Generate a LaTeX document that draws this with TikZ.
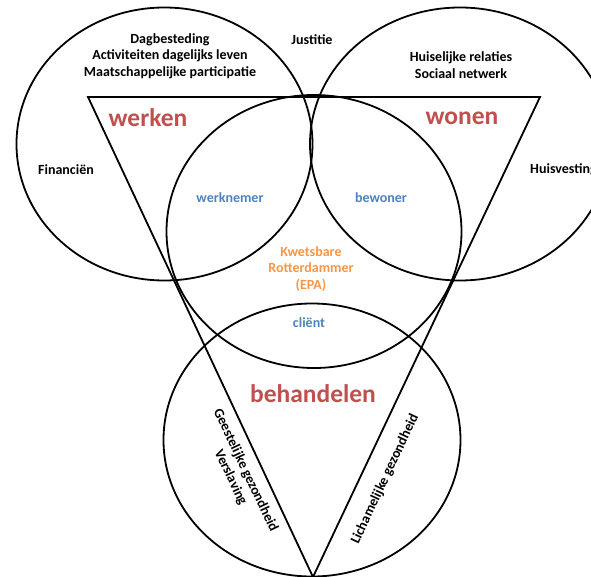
\documentclass[tikz,border=0pt]{standalone}
\usepackage{fontspec}
\setmainfont{Carlito}
\usepackage{xcolor}
\usetikzlibrary{positioning, calc}

\definecolor{domred}{HTML}{C0504D}
\definecolor{rolblue}{HTML}{4F81BD}
\definecolor{epaorange}{HTML}{F79646}

\begin{document}
\begin{tikzpicture}[x=1pt, y=-1pt, line width=1.8pt,
  domainlabel/.style={font=\bfseries\fontsize{25.5}{28}\selectfont, text=domred},
  rolelabel/.style={font=\bfseries\fontsize{14}{16}\selectfont, text=rolblue},
  themelabel/.style={font=\bfseries\fontsize{14}{16.5}\selectfont, align=center}]
\useasboundingbox (0,0) rectangle (591,577);
\clip (0,0) rectangle (591,577);

% Circles
\draw (164.5,144) circle [x radius=148, y radius=136.5];
\draw (460,144) circle [x radius=150, y radius=136.5];
\draw (314,231.5) circle [x radius=147.5, y radius=136.5];
\draw (312,440) circle [x radius=148.5, y radius=136.5];

% Triangle
\draw (88,97) -- (540,97) -- (313,577) -- cycle;

% Domains
\node[domainlabel] (werken) at (148,118) {werken};
\node[domainlabel] (wonen) at (462,118) {wonen};
\node[domainlabel] (behandelen) at (313,394) {behandelen};

% Themes
\node[themelabel] (dag) at (170,56) {Dagbesteding\\Activiteiten dagelijks leven\\Maatschappelijke participatie};
\node[themelabel] (justitie) at (312,40) {Justitie};
\node[themelabel] (huiselijk) at (461,65) {Huiselijke relaties\\Sociaal netwerk};
\node[themelabel] (financien) at (66,170) {Financiën};
\node[themelabel, anchor=west] (huisvesting) at (526,170) {Huisvesting};
\node[themelabel, rotate=-64.7] (geest) at (238,474) {Geestelijke gezondheid\\Verslaving};
\node[themelabel, rotate=64.9] (lichaam) at (385,479) {Lichamelijke gezondheid};

% Roles
\node[rolelabel] (werknemer) at (230,198) {werknemer};
\node[rolelabel] (bewoner) at (381,198) {bewoner};
\node[rolelabel] (client) at (309,323) {cliënt};

% Centre
\node[themelabel, text=epaorange] (epa) at (311,269) {Kwetsbare\\Rotterdammer\\(EPA)};
\end{tikzpicture}
\end{document}
